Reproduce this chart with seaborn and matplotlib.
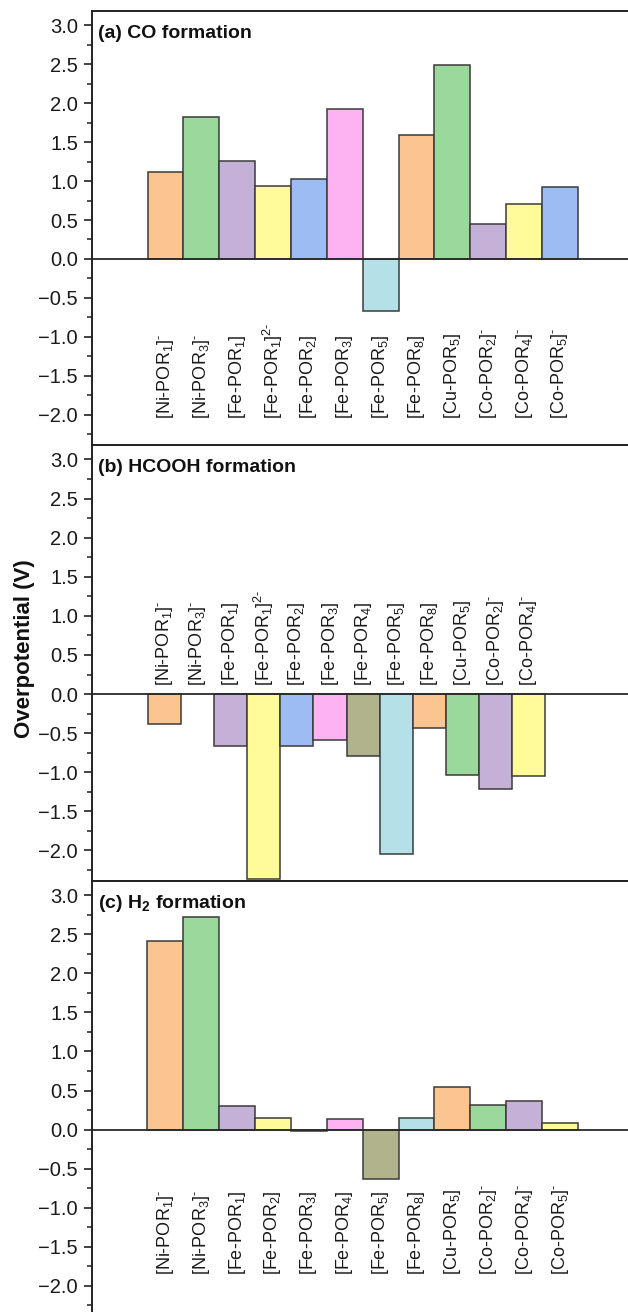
import numpy as np
import pandas as pd
import matplotlib
matplotlib.use("Agg")
import matplotlib.pyplot as plt
from matplotlib.ticker import MultipleLocator, FuncFormatter, AutoMinorLocator
import seaborn as sns

sns.set_theme(style="white")
plt.rcParams["font.family"] = ["Liberation Sans", "DejaVu Sans"]
plt.rcParams["mathtext.fontset"] = "custom"
plt.rcParams["mathtext.rm"] = "Liberation Sans"
plt.rcParams["mathtext.it"] = "Liberation Sans:italic"
plt.rcParams["mathtext.bf"] = "Liberation Sans:bold"
plt.rcParams["axes.unicode_minus"] = True

# fill colours, cycling through the catalyst list
ORANGE = "#fbc592"
GREEN = "#9bd89b"
PURPLE = "#c5b1d7"
YELLOW = "#fffb98"
BLUE = "#9dbcf3"
PINK = "#fdb2f2"
OLIVE = "#b1b38d"
CYAN = "#b3e1e7"

# (a) CO formation
co_labels = [r"[Ni-POR$_1$]$^{\text{-}}$", r"[Ni-POR$_3$]$^{\text{-}}$", r"[Fe-POR$_1$]",
             r"[Fe-POR$_1$]$^{\text{2-}}$", r"[Fe-POR$_2$]", r"[Fe-POR$_3$]", r"[Fe-POR$_5$]",
             r"[Fe-POR$_8$]", r"[Cu-POR$_5$]", r"[Co-POR$_2$]$^{\text{-}}$",
             r"[Co-POR$_4$]$^{\text{-}}$", r"[Co-POR$_5$]$^{\text{-}}$"]
co_values = [1.12, 1.82, 1.26, 0.94, 1.03, 1.92, -0.67, 1.59, 2.49, 0.45, 0.71, 0.93]
co_colors = [ORANGE, GREEN, PURPLE, YELLOW, BLUE, PINK, CYAN, ORANGE, GREEN, PURPLE, YELLOW, BLUE]

# (b) HCOOH formation
hcooh_labels = [r"[Ni-POR$_1$]$^{\text{-}}$", r"[Ni-POR$_3$]$^{\text{-}}$", r"[Fe-POR$_1$]",
                r"[Fe-POR$_1$]$^{\text{2-}}$", r"[Fe-POR$_2$]", r"[Fe-POR$_3$]", r"[Fe-POR$_4$]",
                r"[Fe-POR$_5$]", r"[Fe-POR$_8$]", r"[Cu-POR$_5$]",
                r"[Co-POR$_2$]$^{\text{-}}$", r"[Co-POR$_4$]$^{\text{-}}$"]
hcooh_values = [-0.38, np.nan, -0.66, -2.37, -0.66, -0.59, -0.79, -2.05, -0.44, -1.03, -1.21, -1.05]
hcooh_colors = [ORANGE, GREEN, PURPLE, YELLOW, BLUE, PINK, OLIVE, CYAN, ORANGE, GREEN, PURPLE, YELLOW]

# (c) H2 formation
h2_labels = [r"[Ni-POR$_1$]$^{\text{-}}$", r"[Ni-POR$_3$]$^{\text{-}}$", r"[Fe-POR$_1$]",
             r"[Fe-POR$_2$]", r"[Fe-POR$_3$]", r"[Fe-POR$_4$]", r"[Fe-POR$_5$]", r"[Fe-POR$_8$]",
             r"[Cu-POR$_5$]", r"[Co-POR$_2$]$^{\text{-}}$", r"[Co-POR$_4$]$^{\text{-}}$",
             r"[Co-POR$_5$]$^{\text{-}}$"]
h2_values = [2.41, 2.73, 0.30, 0.15, -0.02, 0.13, -0.63, 0.15, 0.55, 0.31, 0.37, 0.08]
h2_colors = [ORANGE, GREEN, PURPLE, YELLOW, BLUE, PINK, OLIVE, CYAN, ORANGE, GREEN, PURPLE, YELLOW]

titles = ["(a) CO formation", "(b) HCOOH formation", r"(c) H$_\mathbf{2}$ formation"]

W, H = 628, 1312
fig = plt.figure(figsize=(W / 100, H / 100), dpi=100)

# panel frames in pixels: (top, bottom), left spine at x=92
frames = [(11, 445), (445, 881), (881, 1316)]
xlims = [(-2.05, 12.9), (-2.19, 14.0), (-2.04, 12.89)]
label_y = [-2.05, 0.10, -1.86]
panels = [(co_labels, co_values, co_colors),
          (hcooh_labels, hcooh_values, hcooh_colors),
          (h2_labels, h2_values, h2_colors)]

minus_fmt = FuncFormatter(lambda v, pos: f"{v:.1f}".replace("-", "\u2212"))

EDGE = "#3a3a3a"
for k, ((labels, values, colors), (top, bot)) in enumerate(zip(panels, frames)):
    ax = fig.add_axes([92 / W, 1 - bot / H, (W - 92) / W, (bot - top) / H])
    df = pd.DataFrame({"catalyst": labels, "eta": values})
    sns.barplot(data=df, x="catalyst", y="eta", hue="catalyst", order=labels,
                hue_order=labels, palette=dict(zip(labels, colors)), width=1.0,
                saturation=1.0, edgecolor=EDGE, linewidth=1.1, legend=False,
                ax=ax, errorbar=None)
    ax.axhline(0, color="#2a2a2a", lw=1.3, zorder=3)
    ax.set_xlim(*xlims[k])
    ax.set_ylim(-2.39, 3.185)
    ax.set_xticks([])
    ax.set_xlabel("")
    ax.set_ylabel("")
    ax.yaxis.set_major_locator(MultipleLocator(0.5))
    ax.yaxis.set_major_formatter(minus_fmt)
    ax.yaxis.set_minor_locator(AutoMinorLocator(2))
    ax.tick_params(axis="y", which="major", direction="out", length=6, width=1.2,
                   labelsize=14.5, pad=4, color="#222222", labelcolor="#1a1a1a", left=True)
    ax.tick_params(axis="y", which="minor", direction="out", length=3.5, width=1.1,
                   color="#222222", left=True)
    for side in ["left", "top", "bottom"]:
        ax.spines[side].set_visible(True)
        ax.spines[side].set_color("#222222")
        ax.spines[side].set_linewidth(1.4)
    ax.spines["right"].set_visible(False)
    ax.set_facecolor("white")

    for i, lab in enumerate(labels):
        ax.text(i, label_y[k], lab, rotation=90, ha="center", va="bottom",
                fontsize=13, color="#1a1a1a")

    ax.annotate(titles[k], xy=(0, 1), xycoords="axes fraction", xytext=(4, -16.5),
                textcoords="offset points", ha="left", va="center",
                fontsize=14, fontweight="bold", color="#111111")

fig.text(25 / W, 1 - 649 / H, "Overpotential (V)", rotation=90, ha="center",
         va="center", fontsize=16, fontweight="bold", color="#111111")

fig.savefig("out.png", dpi=100, facecolor="white")
